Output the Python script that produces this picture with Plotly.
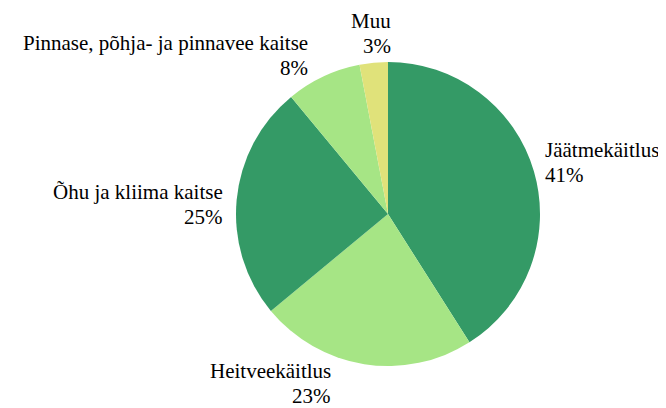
import math
import plotly.graph_objects as go

labels = ["Jäätmekäitlus", "Heitveekäitlus", "Õhu ja kliima kaitse",
          "Pinnase, põhja- ja pinnavee kaitse", "Muu"]
values = [41, 23, 25, 8, 3]
colors = ["#349a66", "#a6e585", "#349a66", "#a6e585", "#e0e27a"]

# label style tweaks (pixel nudges relative to the slice mid-angle anchor)
label_xshift = [-6, -29, 3, -7, 21]
label_yshift = [5, -4, -6, 7, 14]
LINE_GAP = 25  # px between the name line and the percent line

FONT = dict(family="Liberation Serif", size=21, color="#000000")

fig = go.Figure(go.Pie(
    labels=labels, values=values, sort=False, direction="clockwise", rotation=0,
    marker=dict(colors=colors, line=dict(width=0)),
    textinfo="none", showlegend=False, hoverinfo="label+percent",
    automargin=False,
))

total = sum(values)
cum = 0.0
k = 1.1
for i, (lab, v) in enumerate(zip(labels, values)):
    mid = (cum + v / 2) / total * 2 * math.pi
    cum += v
    s, c = math.sin(mid), math.cos(mid)
    side = "left" if s > 0 else "right"
    for txt, dy in ((lab, LINE_GAP / 2), (f"{round(v / total * 100)}%", -LINE_GAP / 2)):
        fig.add_annotation(
            x=0.5 + 0.5 * k * s, y=0.5 + 0.5 * k * c, xref="paper", yref="paper",
            text=txt, showarrow=False, xanchor=side, yanchor="middle", align=side,
            xshift=label_xshift[i], yshift=label_yshift[i] + dy, font=FONT,
        )

# page body adds an 8px margin, so the figure is sized to fit the window
fig.update_layout(
    width=658, height=400, paper_bgcolor="white", plot_bgcolor="white",
    font=FONT,
    margin=dict(l=228, r=126, t=54, b=42, autoexpand=False),
)
fig.write_html("out.html")
